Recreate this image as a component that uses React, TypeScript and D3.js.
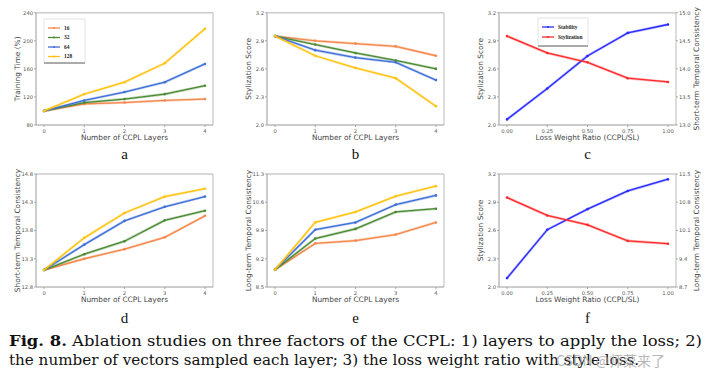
import React from "react";
import * as d3 from "d3";

const layers = [0, 1, 2, 3, 4];
const ratios = [0, 0.25, 0.5, 0.75, 1.0];
const seriesNames = ["16", "32", "64", "128"];
const seriesColors = ["#f4874a", "#4a8a34", "#3f6fd6", "#ffc20e"];

const timeValues = [
  [100, 110, 112, 115, 117],
  [100, 112, 117, 124, 136],
  [100, 115, 127, 141, 167],
  [100, 124, 141, 168, 217],
];
const styleValues = [
  [2.95, 2.9, 2.87, 2.84, 2.74],
  [2.95, 2.86, 2.77, 2.69, 2.6],
  [2.95, 2.8, 2.72, 2.67, 2.48],
  [2.95, 2.74, 2.61, 2.5, 2.2],
];
const shortValues = [
  [13.1, 13.3, 13.47, 13.68, 14.06],
  [13.1, 13.38, 13.61, 13.98, 14.15],
  [13.1, 13.55, 13.97, 14.22, 14.4],
  [13.1, 13.67, 14.11, 14.4, 14.54],
];
const longValues = [
  [8.93, 9.58, 9.65, 9.8, 10.1],
  [8.93, 9.7, 9.94, 10.36, 10.44],
  [8.93, 9.92, 10.1, 10.54, 10.77],
  [8.93, 10.1, 10.36, 10.75, 11.0],
];
const ratioStylizationC = [2.95, 2.77, 2.67, 2.5, 2.46];
const ratioStabilityC = [13.1, 13.65, 14.23, 14.64, 14.79];
const ratioStylizationF = [2.95, 2.76, 2.66, 2.49, 2.46];
const ratioStabilityF = [8.92, 10.12, 10.63, 11.08, 11.37];

const timeTicks = [80, 120, 160, 200, 240];
const styleTicks = [2.0, 2.3, 2.6, 2.9, 3.2];
const shortTicks = [12.8, 13.3, 13.8, 14.3, 14.8];
const longTicks = [8.5, 9.2, 9.9, 10.6, 11.3];
const shortTicksC = [13.0, 13.5, 14.0, 14.5, 15.0];
const longTicksF = [8.7, 9.4, 10.1, 10.8, 11.5];

const SANS = "'DejaVu Sans', sans-serif";
const SERIF = "'Liberation Serif', 'DejaVu Serif', serif";
const CAPTION = "'DejaVu Serif', serif";

type Series = { values: number[]; color: string; axis?: "right" };

function Panel(props: {
  x0: number; x1: number; y0: number; y1: number;
  xs: number[]; xTicks: string[]; xLabel: string;
  yTicks: number[]; yFmt: (v: number) => string; yLabel: string;
  rTicks?: number[]; rFmt?: (v: number) => string; rLabel?: string;
  series: Series[];
  letter: string; letterY: number;
}) {
  const { x0, x1, y0, y1 } = props;
  const xmin = d3.min(props.xs)!, xmax = d3.max(props.xs)!;
  const pad = (xmax - xmin) * 0.05;
  const x = d3.scaleLinear().domain([xmin - pad, xmax + pad]).range([x0, x1]);
  const y = d3.scaleLinear().domain([props.yTicks[0], props.yTicks[props.yTicks.length - 1]]).range([y1, y0]);
  const rt = props.rTicks;
  const yr = rt ? d3.scaleLinear().domain([rt[0], rt[rt.length - 1]]).range([y1, y0]) : y;
  const tickCol = "#555";
  return (
    <g>
      <line x1={x0} x2={x1} y1={y0} y2={y0} stroke="#ccc" strokeWidth={1.6} />
      <line x1={x1} x2={x1} y1={y0} y2={y1} stroke="#bbb" strokeWidth={1} />
      <line x1={x0} x2={x1} y1={y1} y2={y1} stroke="#999" strokeWidth={1} />
      <line x1={x0} x2={x0} y1={y0} y2={y1} stroke="#999" strokeWidth={1} />
      {props.yTicks.map((t) => (
        <g key={"y" + t}>
          <line x1={x0 - 2} x2={x0} y1={y(t)} y2={y(t)} stroke="#999" strokeWidth={0.8} />
          <text x={x0 - 3} y={y(t) + 1.8} fontSize={5.2} fill={tickCol} textAnchor="end" fontFamily={SANS}>
            {props.yFmt(t)}
          </text>
        </g>
      ))}
      {rt && rt.map((t) => (
        <g key={"r" + t}>
          <line x1={x1} x2={x1 + 2} y1={yr(t)} y2={yr(t)} stroke="#999" strokeWidth={0.8} />
          <text x={x1 + 3} y={yr(t) + 1.8} fontSize={5.2} fill={tickCol} textAnchor="start" fontFamily={SANS}>
            {props.rFmt!(t)}
          </text>
        </g>
      ))}
      {props.xs.map((v, i) => (
        <g key={"x" + i}>
          <line x1={x(v)} x2={x(v)} y1={y1} y2={y1 + 2} stroke="#999" strokeWidth={0.8} />
          <text x={x(v)} y={y1 + 8} fontSize={5.2} fill={tickCol} textAnchor="middle" fontFamily={SANS}>
            {props.xTicks[i]}
          </text>
        </g>
      ))}
      <text x={(x0 + x1) / 2} y={y1 + 15} fontSize={7.4} fill="#444" textAnchor="middle" fontFamily={SANS}>
        {props.xLabel}
      </text>
      <text transform={`translate(${x0 - 16},${(y0 + y1) / 2}) rotate(-90)`} fontSize={7.4} fill="#444" textAnchor="middle" fontFamily={SANS}>
        {props.yLabel}
      </text>
      {props.rLabel && (
        <text transform={`translate(${x1 + 23},${(y0 + y1) / 2}) rotate(-90)`} fontSize={7.4} fill="#444" textAnchor="middle" fontFamily={SANS}>
          {props.rLabel}
        </text>
      )}
      {props.series.map((s, si) => {
        const sc = s.axis === "right" ? yr : y;
        const line = d3.line<number>().x((_, i) => x(props.xs[i])).y((v) => sc(v));
        return (
          <g key={"s" + si}>
            <path d={line(s.values)!} fill="none" stroke={s.color} strokeOpacity={0.35} strokeWidth={2.6} />
            <path d={line(s.values)!} fill="none" stroke={s.color} strokeWidth={1.3} />
            {s.values.map((v, i) => (
              <circle key={i} cx={x(props.xs[i])} cy={sc(v)} r={1.3} fill={s.color} />
            ))}
          </g>
        );
      })}
      <text x={(x0 + x1) / 2} y={props.letterY} fontSize={15} fill="#111" textAnchor="middle" fontFamily={SERIF}>
        {props.letter}
      </text>
    </g>
  );
}

function Legend(props: { x: number; y: number; w: number; h: number; names: string[]; colors: string[]; lineW: number; rowH: number; top: number }) {
  const { x, y, w, h } = props;
  return (
    <g>
      <rect x={x} y={y} width={w} height={h} fill="#fff" stroke="#ddd" strokeWidth={0.8} />
      <line x1={x} x2={x + w} y1={y + h} y2={y + h} stroke="#555" strokeWidth={0.9} />
      {props.names.map((n, i) => {
        const cy = y + props.top + i * props.rowH;
        return (
          <g key={n}>
            <line x1={x + 4} x2={x + 4 + props.lineW} y1={cy} y2={cy} stroke={props.colors[i]} strokeWidth={1.3} />
            <circle cx={x + 4 + props.lineW / 2} cy={cy} r={1} fill={props.colors[i]} />
            <text x={x + props.lineW + 8} y={cy + 1.8} fontSize={5.4} fontWeight="bold" fill="#222" fontFamily={SERIF}>
              {n}
            </text>
          </g>
        );
      })}
    </g>
  );
}

export default function App() {
  const layerTicks = layers.map(String);
  const ratioTicks = ratios.map((r) => r.toFixed(2));
  const f1 = (v: number) => v.toFixed(1);
  const f0 = (v: number) => v.toFixed(0);
  const multi = (vals: number[][]): Series[] => vals.map((v, i) => ({ values: v, color: seriesColors[i] }));
  const top = { y0: 12.7, y1: 125 };
  const bot = { y0: 174, y1: 287 };
  const colA = { x0: 36, x1: 213 };
  const colB = { x0: 267, x1: 444 };
  const colC = { x0: 499, x1: 676 };
  return (
    <svg width={710} height={383} style={{ position: "absolute", left: 0, top: 0, background: "#fff" }}>
      <rect width={710} height={383} fill="#fff" />
      <Panel {...colA} {...top} xs={layers} xTicks={layerTicks} xLabel="Number of CCPL Layers"
        yTicks={timeTicks} yFmt={f0} yLabel="Training Time (%)" series={multi(timeValues)} letter="a" letterY={159} />
      <Legend x={44} y={19} w={41} h={44} names={seriesNames} colors={seriesColors} lineW={12} rowH={9.5} top={9} />
      <Panel {...colB} {...top} xs={layers} xTicks={layerTicks} xLabel="Number of CCPL Layers"
        yTicks={styleTicks} yFmt={f1} yLabel="Stylization Score" series={multi(styleValues)} letter="b" letterY={159} />
      <Panel {...colC} {...top} xs={ratios} xTicks={ratioTicks} xLabel="Loss Weight Ratio (CCPL/SL)"
        yTicks={styleTicks} yFmt={f1} yLabel="Stylization Score"
        rTicks={shortTicksC} rFmt={f1} rLabel="Short-term Temporal Consistency"
        series={[{ values: ratioStabilityC, color: "#2a2aff", axis: "right" }, { values: ratioStylizationC, color: "#ff2a2a" }]}
        letter="c" letterY={159} />
      <Legend x={538} y={18} w={50} h={28} names={["Stability", "Stylization"]} colors={["#2a2aff", "#ff2a2a"]} lineW={12} rowH={10} top={9} />
      <Panel {...colA} {...bot} xs={layers} xTicks={layerTicks} xLabel="Number of CCPL Layers"
        yTicks={shortTicks} yFmt={f1} yLabel="Short-term Temporal Consistency" series={multi(shortValues)} letter="d" letterY={323} />
      <Panel {...colB} {...bot} xs={layers} xTicks={layerTicks} xLabel="Number of CCPL Layers"
        yTicks={longTicks} yFmt={f1} yLabel="Long-term Temporal Consistency" series={multi(longValues)} letter="e" letterY={323} />
      <Panel {...colC} {...bot} xs={ratios} xTicks={ratioTicks} xLabel="Loss Weight Ratio (CCPL/SL)"
        yTicks={styleTicks} yFmt={f1} yLabel="Stylization Score"
        rTicks={longTicksF} rFmt={f1} rLabel="Long-term Temporal Consistency"
        series={[{ values: ratioStabilityF, color: "#2a2aff", axis: "right" }, { values: ratioStylizationF, color: "#ff2a2a" }]}
        letter="f" letterY={323} />
      <text x={9} y={346} fontSize={14.5} fill="#111" fontFamily={CAPTION} textLength={693} lengthAdjust="spacingAndGlyphs">
        <tspan fontWeight="bold">Fig. 8.</tspan> Ablation studies on three factors of the CCPL: 1) layers to apply the loss; 2)
      </text>
      <text x={9} y={365} fontSize={14.5} fill="#111" fontFamily={CAPTION} textLength={630} lengthAdjust="spacingAndGlyphs">
        the number of vectors sampled each layer; 3) the loss weight ratio with style loss.
      </text>
      <text x={556} y={366} fontSize={14} fill="#aaa" fillOpacity={0.85} fontFamily="'Noto Sans CJK SC', sans-serif">
        CSDN @师菜来了
      </text>
    </svg>
  );
}
